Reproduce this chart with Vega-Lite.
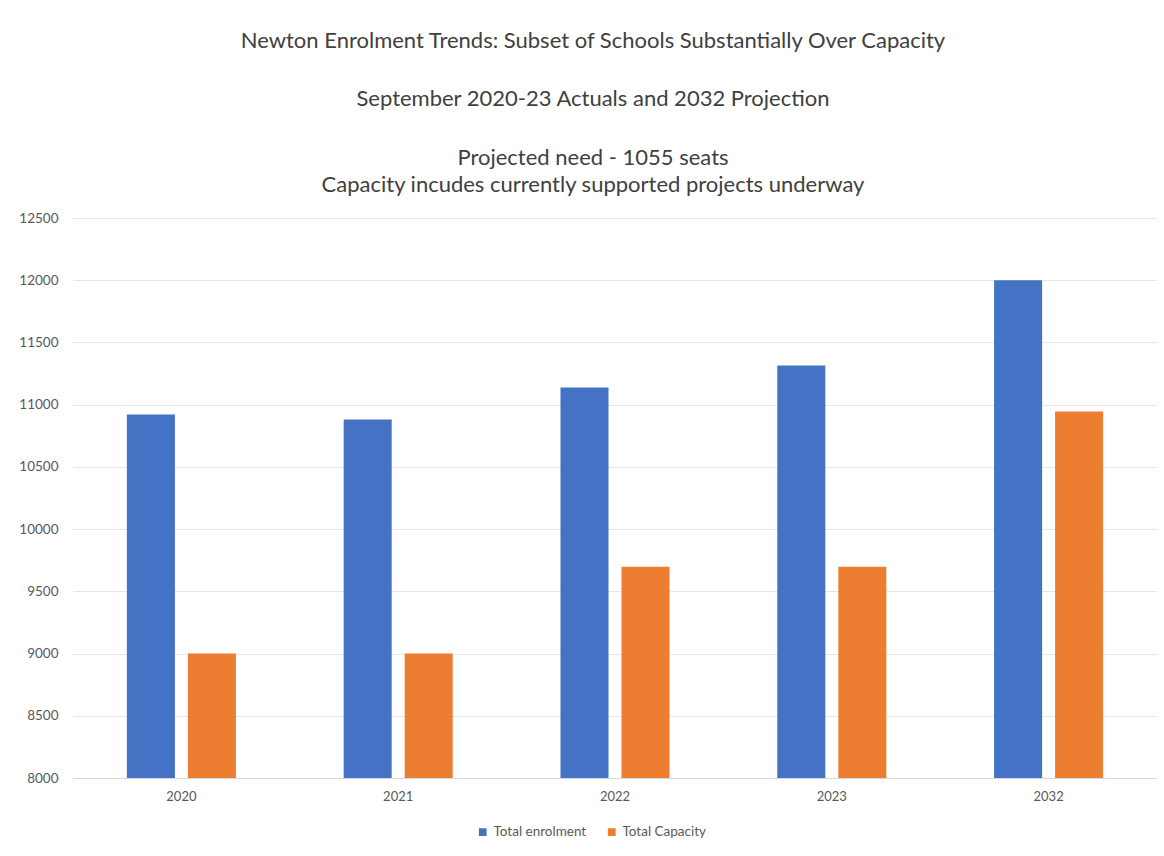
{
  "$schema": "https://vega.github.io/schema/vega-lite/v6.json",
  "width": 1084,
  "height": 560,
  "autosize": {"type": "none"},
  "padding": {"left": 73, "top": 218, "right": 7, "bottom": 78},
  "background": "white",
  "title": {
    "text": ["Newton Enrolment Trends: Subset of Schools Substantially Over Capacity", "September 2020-23 Actuals and 2032 Projection"],
    "subtitle": ["Projected need - 1055 seats", "Capacity incudes currently supported projects underway"],
    "font": "Lato",
    "fontSize": 22,
    "fontWeight": "normal",
    "color": "#404040",
    "lineHeight": 58,
    "subtitleFont": "Lato",
    "subtitleFontSize": 22,
    "subtitleFontWeight": "normal",
    "subtitleColor": "#404040",
    "subtitleLineHeight": 27,
    "subtitlePadding": 37,
    "anchor": "middle",
    "dx": -22,
    "offset": 14
  },
  "data": {
    "values": [
      {"year": "2020", "series": "Total enrolment", "value": 10920},
      {"year": "2020", "series": "Total Capacity", "value": 9000},
      {"year": "2021", "series": "Total enrolment", "value": 10880},
      {"year": "2021", "series": "Total Capacity", "value": 9000},
      {"year": "2022", "series": "Total enrolment", "value": 11137},
      {"year": "2022", "series": "Total Capacity", "value": 9697},
      {"year": "2023", "series": "Total enrolment", "value": 11315},
      {"year": "2023", "series": "Total Capacity", "value": 9697},
      {"year": "2032", "series": "Total enrolment", "value": 12000},
      {"year": "2032", "series": "Total Capacity", "value": 10945}
    ]
  },
  "mark": {"type": "bar", "clip": true},
  "encoding": {
    "x": {
      "field": "year",
      "type": "nominal",
      "sort": ["2020", "2021", "2022", "2023", "2032"],
      "scale": {"paddingInner": 0.497, "paddingOuter": 0.2485},
      "axis": {
        "title": null,
        "labelAngle": 0,
        "labelFont": "Lato",
        "labelFontSize": 13,
        "labelColor": "#595959",
        "labelPadding": 12,
        "ticks": false,
        "domainColor": "#d9d9d9",
        "grid": false
      }
    },
    "xOffset": {
      "field": "series",
      "type": "nominal",
      "sort": ["Total enrolment", "Total Capacity"],
      "scale": {"paddingInner": 0.213, "paddingOuter": 0}
    },
    "y": {
      "field": "value",
      "type": "quantitative",
      "scale": {"domain": [8000, 12500], "zero": false, "nice": false},
      "axis": {
        "title": null,
        "values": [8000, 8500, 9000, 9500, 10000, 10500, 11000, 11500, 12000, 12500],
        "format": "d",
        "labelFont": "Lato",
        "labelFontSize": 13.5,
        "labelColor": "#595959",
        "labelPadding": 15,
        "ticks": false,
        "domain": false,
        "gridColor": "#e6e6e6",
        "gridWidth": 1
      }
    },
    "color": {
      "field": "series",
      "type": "nominal",
      "sort": ["Total enrolment", "Total Capacity"],
      "scale": {"domain": ["Total enrolment", "Total Capacity"], "range": ["#4472C4", "#ED7D31"]},
      "legend": {
        "title": null,
        "orient": "none",
        "legendX": 403,
        "legendY": 607,
        "direction": "horizontal",
        "labelFont": "Lato",
        "labelFontSize": 13.5,
        "labelColor": "#595959",
        "symbolType": "square",
        "symbolSize": 60,
        "symbolStrokeWidth": 0,
        "columnPadding": 18
      }
    }
  },
  "config": {"view": {"stroke": null}}
}
